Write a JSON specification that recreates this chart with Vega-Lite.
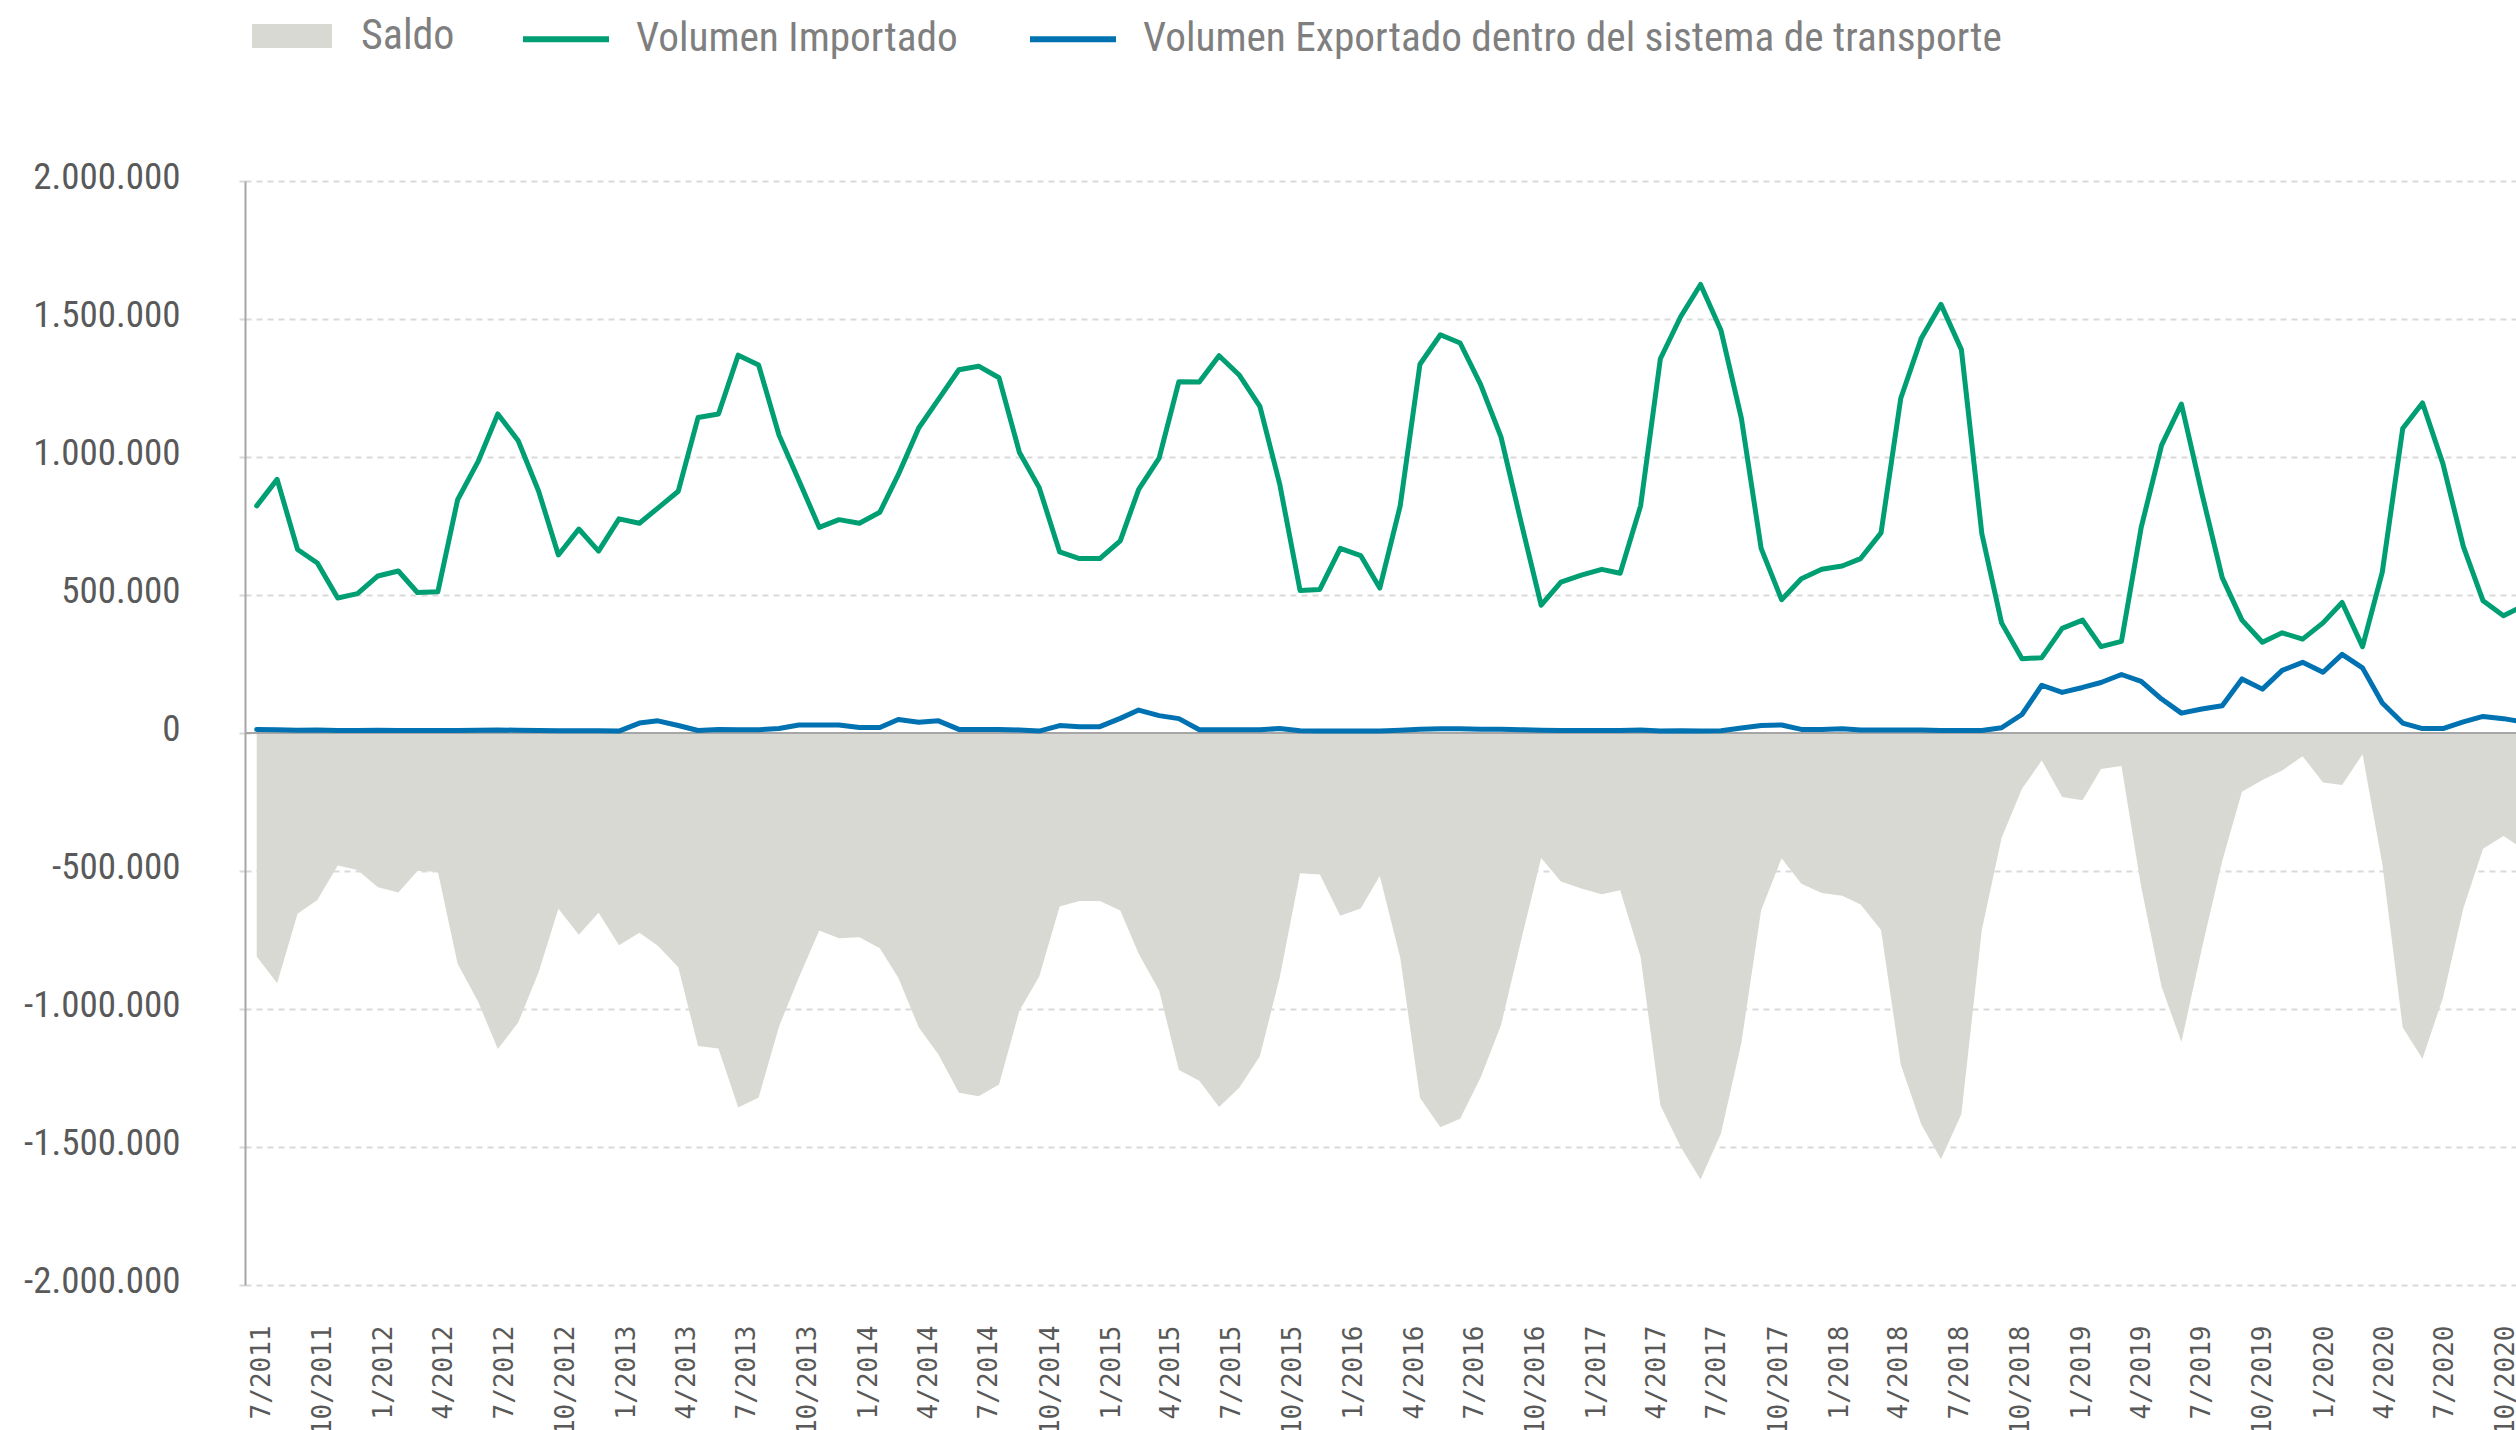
{
  "$schema": "https://vega.github.io/schema/vega-lite/v6.json",
  "width": 2271,
  "height": 1104,
  "autosize": {"type": "none"},
  "padding": {"left": 245, "top": 181, "right": 0, "bottom": 145},
  "background": "white",
  "config": {
    "view": {"stroke": null},
    "locale": {"number": {"decimal": ",", "thousands": ".", "grouping": [3], "currency": ["$", ""], "minus": "-"}},
    "axisY": {
      "domainColor": "#a6a6a6", "domainWidth": 2,
      "gridColor": "#d9d9d9", "gridDash": [6, 5], "gridWidth": 2,
      "tickColor": "#d9d9d9", "tickSize": 6, "tickWidth": 2,
      "labelFont": "Roboto Condensed, Roboto, sans-serif", "labelFontSize": 37, "labelColor": "#595959",
      "labelPadding": 59, "labelOffset": -4, "title": null
    }
  },
  "data": {"values": [
    {"fecha": "2011-07-01", "imp": 823000, "exp": 13000, "saldo": -810000},
    {"fecha": "2011-08-01", "imp": 919000, "exp": 12000, "saldo": -907000},
    {"fecha": "2011-09-01", "imp": 665000, "exp": 10000, "saldo": -655000},
    {"fecha": "2011-10-01", "imp": 616000, "exp": 11000, "saldo": -605000},
    {"fecha": "2011-11-01", "imp": 489000, "exp": 9000, "saldo": -480000},
    {"fecha": "2011-12-01", "imp": 505000, "exp": 9000, "saldo": -496000},
    {"fecha": "2012-01-01", "imp": 569000, "exp": 10000, "saldo": -559000},
    {"fecha": "2012-02-01", "imp": 587000, "exp": 9000, "saldo": -578000},
    {"fecha": "2012-03-01", "imp": 509000, "exp": 9000, "saldo": -500000},
    {"fecha": "2012-04-01", "imp": 512000, "exp": 9000, "saldo": -503000},
    {"fecha": "2012-05-01", "imp": 845000, "exp": 9000, "saldo": -836000},
    {"fecha": "2012-06-01", "imp": 983000, "exp": 10000, "saldo": -973000},
    {"fecha": "2012-07-01", "imp": 1156000, "exp": 11000, "saldo": -1145000},
    {"fecha": "2012-08-01", "imp": 1059000, "exp": 10000, "saldo": -1049000},
    {"fecha": "2012-09-01", "imp": 876000, "exp": 9000, "saldo": -867000},
    {"fecha": "2012-10-01", "imp": 645000, "exp": 8000, "saldo": -637000},
    {"fecha": "2012-11-01", "imp": 739000, "exp": 8000, "saldo": -731000},
    {"fecha": "2012-12-01", "imp": 659000, "exp": 8000, "saldo": -651000},
    {"fecha": "2013-01-01", "imp": 776000, "exp": 7000, "saldo": -769000},
    {"fecha": "2013-02-01", "imp": 760000, "exp": 36000, "saldo": -724000},
    {"fecha": "2013-03-01", "imp": 815000, "exp": 44000, "saldo": -771000},
    {"fecha": "2013-04-01", "imp": 876000, "exp": 27000, "saldo": -849000},
    {"fecha": "2013-05-01", "imp": 1143000, "exp": 9000, "saldo": -1134000},
    {"fecha": "2013-06-01", "imp": 1156000, "exp": 13000, "saldo": -1143000},
    {"fecha": "2013-07-01", "imp": 1369000, "exp": 12000, "saldo": -1357000},
    {"fecha": "2013-08-01", "imp": 1333000, "exp": 12000, "saldo": -1321000},
    {"fecha": "2013-09-01", "imp": 1079000, "exp": 16000, "saldo": -1063000},
    {"fecha": "2013-10-01", "imp": 916000, "exp": 29000, "saldo": -887000},
    {"fecha": "2013-11-01", "imp": 745000, "exp": 29000, "saldo": -716000},
    {"fecha": "2013-12-01", "imp": 773000, "exp": 29000, "saldo": -744000},
    {"fecha": "2014-01-01", "imp": 760000, "exp": 20000, "saldo": -740000},
    {"fecha": "2014-02-01", "imp": 800000, "exp": 20000, "saldo": -780000},
    {"fecha": "2014-03-01", "imp": 936000, "exp": 49000, "saldo": -887000},
    {"fecha": "2014-04-01", "imp": 1105000, "exp": 39000, "saldo": -1066000},
    {"fecha": "2014-05-01", "imp": 1209000, "exp": 44000, "saldo": -1165000},
    {"fecha": "2014-06-01", "imp": 1316000, "exp": 13000, "saldo": -1303000},
    {"fecha": "2014-07-01", "imp": 1329000, "exp": 13000, "saldo": -1316000},
    {"fecha": "2014-08-01", "imp": 1287000, "exp": 13000, "saldo": -1274000},
    {"fecha": "2014-09-01", "imp": 1016000, "exp": 11000, "saldo": -1005000},
    {"fecha": "2014-10-01", "imp": 889000, "exp": 7000, "saldo": -882000},
    {"fecha": "2014-11-01", "imp": 656000, "exp": 27000, "saldo": -629000},
    {"fecha": "2014-12-01", "imp": 632000, "exp": 23000, "saldo": -609000},
    {"fecha": "2015-01-01", "imp": 632000, "exp": 23000, "saldo": -609000},
    {"fecha": "2015-02-01", "imp": 696000, "exp": 53000, "saldo": -643000},
    {"fecha": "2015-03-01", "imp": 883000, "exp": 83000, "saldo": -800000},
    {"fecha": "2015-04-01", "imp": 996000, "exp": 63000, "saldo": -933000},
    {"fecha": "2015-05-01", "imp": 1273000, "exp": 52000, "saldo": -1221000},
    {"fecha": "2015-06-01", "imp": 1272000, "exp": 12000, "saldo": -1260000},
    {"fecha": "2015-07-01", "imp": 1367000, "exp": 12000, "saldo": -1355000},
    {"fecha": "2015-08-01", "imp": 1296000, "exp": 12000, "saldo": -1284000},
    {"fecha": "2015-09-01", "imp": 1183000, "exp": 12000, "saldo": -1171000},
    {"fecha": "2015-10-01", "imp": 903000, "exp": 16000, "saldo": -887000},
    {"fecha": "2015-11-01", "imp": 516000, "exp": 8000, "saldo": -508000},
    {"fecha": "2015-12-01", "imp": 520000, "exp": 7000, "saldo": -513000},
    {"fecha": "2016-01-01", "imp": 669000, "exp": 7000, "saldo": -662000},
    {"fecha": "2016-02-01", "imp": 643000, "exp": 7000, "saldo": -636000},
    {"fecha": "2016-03-01", "imp": 525000, "exp": 7000, "saldo": -518000},
    {"fecha": "2016-04-01", "imp": 823000, "exp": 10000, "saldo": -813000},
    {"fecha": "2016-05-01", "imp": 1336000, "exp": 14000, "saldo": -1322000},
    {"fecha": "2016-06-01", "imp": 1443000, "exp": 15000, "saldo": -1428000},
    {"fecha": "2016-07-01", "imp": 1413000, "exp": 15000, "saldo": -1398000},
    {"fecha": "2016-08-01", "imp": 1263000, "exp": 14000, "saldo": -1249000},
    {"fecha": "2016-09-01", "imp": 1073000, "exp": 14000, "saldo": -1059000},
    {"fecha": "2016-10-01", "imp": 769000, "exp": 12000, "saldo": -757000},
    {"fecha": "2016-11-01", "imp": 463000, "exp": 10000, "saldo": -453000},
    {"fecha": "2016-12-01", "imp": 547000, "exp": 9000, "saldo": -538000},
    {"fecha": "2017-01-01", "imp": 572000, "exp": 9000, "saldo": -563000},
    {"fecha": "2017-02-01", "imp": 593000, "exp": 9000, "saldo": -584000},
    {"fecha": "2017-03-01", "imp": 579000, "exp": 9000, "saldo": -570000},
    {"fecha": "2017-04-01", "imp": 823000, "exp": 11000, "saldo": -812000},
    {"fecha": "2017-05-01", "imp": 1356000, "exp": 7000, "saldo": -1349000},
    {"fecha": "2017-06-01", "imp": 1509000, "exp": 8000, "saldo": -1501000},
    {"fecha": "2017-07-01", "imp": 1625000, "exp": 7000, "saldo": -1618000},
    {"fecha": "2017-08-01", "imp": 1459000, "exp": 8000, "saldo": -1451000},
    {"fecha": "2017-09-01", "imp": 1140000, "exp": 18000, "saldo": -1122000},
    {"fecha": "2017-10-01", "imp": 669000, "exp": 27000, "saldo": -642000},
    {"fecha": "2017-11-01", "imp": 483000, "exp": 29000, "saldo": -454000},
    {"fecha": "2017-12-01", "imp": 559000, "exp": 13000, "saldo": -546000},
    {"fecha": "2018-01-01", "imp": 593000, "exp": 13000, "saldo": -580000},
    {"fecha": "2018-02-01", "imp": 605000, "exp": 15000, "saldo": -590000},
    {"fecha": "2018-03-01", "imp": 632000, "exp": 11000, "saldo": -621000},
    {"fecha": "2018-04-01", "imp": 725000, "exp": 11000, "saldo": -714000},
    {"fecha": "2018-05-01", "imp": 1213000, "exp": 11000, "saldo": -1202000},
    {"fecha": "2018-06-01", "imp": 1429000, "exp": 11000, "saldo": -1418000},
    {"fecha": "2018-07-01", "imp": 1553000, "exp": 9000, "saldo": -1544000},
    {"fecha": "2018-08-01", "imp": 1389000, "exp": 9000, "saldo": -1380000},
    {"fecha": "2018-09-01", "imp": 723000, "exp": 9000, "saldo": -714000},
    {"fecha": "2018-10-01", "imp": 399000, "exp": 19000, "saldo": -380000},
    {"fecha": "2018-11-01", "imp": 269000, "exp": 67000, "saldo": -202000},
    {"fecha": "2018-12-01", "imp": 273000, "exp": 173000, "saldo": -100000},
    {"fecha": "2019-01-01", "imp": 379000, "exp": 147000, "saldo": -232000},
    {"fecha": "2019-02-01", "imp": 409000, "exp": 165000, "saldo": -244000},
    {"fecha": "2019-03-01", "imp": 313000, "exp": 183000, "saldo": -130000},
    {"fecha": "2019-04-01", "imp": 332000, "exp": 212000, "saldo": -120000},
    {"fecha": "2019-05-01", "imp": 745000, "exp": 187000, "saldo": -558000},
    {"fecha": "2019-06-01", "imp": 1043000, "exp": 123000, "saldo": -920000},
    {"fecha": "2019-07-01", "imp": 1192000, "exp": 72000, "saldo": -1120000},
    {"fecha": "2019-08-01", "imp": 869000, "exp": 87000, "saldo": -782000},
    {"fecha": "2019-09-01", "imp": 563000, "exp": 99000, "saldo": -464000},
    {"fecha": "2019-10-01", "imp": 409000, "exp": 196000, "saldo": -213000},
    {"fecha": "2019-11-01", "imp": 329000, "exp": 159000, "saldo": -170000},
    {"fecha": "2019-12-01", "imp": 363000, "exp": 227000, "saldo": -136000},
    {"fecha": "2020-01-01", "imp": 340000, "exp": 256000, "saldo": -84000},
    {"fecha": "2020-02-01", "imp": 399000, "exp": 220000, "saldo": -179000},
    {"fecha": "2020-03-01", "imp": 473000, "exp": 285000, "saldo": -188000},
    {"fecha": "2020-04-01", "imp": 313000, "exp": 236000, "saldo": -77000},
    {"fecha": "2020-05-01", "imp": 583000, "exp": 109000, "saldo": -474000},
    {"fecha": "2020-06-01", "imp": 1103000, "exp": 36000, "saldo": -1067000},
    {"fecha": "2020-07-01", "imp": 1196000, "exp": 16000, "saldo": -1180000},
    {"fecha": "2020-08-01", "imp": 976000, "exp": 16000, "saldo": -960000},
    {"fecha": "2020-09-01", "imp": 676000, "exp": 40000, "saldo": -636000},
    {"fecha": "2020-10-01", "imp": 479000, "exp": 60000, "saldo": -419000},
    {"fecha": "2020-11-01", "imp": 425000, "exp": 52000, "saldo": -373000},
    {"fecha": "2020-12-01", "imp": 460000, "exp": 40000, "saldo": -420000}
  ]},
  "resolve": {"scale": {"x": "independent"}, "axis": {"x": "independent"}},
  "layer": [
    {
      "layer": [
        {
          "mark": {"type": "area", "clip": true, "opacity": 1},
          "encoding": {
            "x": {"field": "fecha", "type": "temporal", "scale": {"type": "utc", "domain": [1307941200000, 1605830400000]}, "axis": null},
            "y": {"field": "saldo", "type": "quantitative",
                  "scale": {"domain": [-2000000, 2000000], "nice": false, "zero": true},
                  "axis": {"values": [-2000000, -1500000, -1000000, -500000, 0, 500000, 1000000, 1500000, 2000000], "format": ",.0f", "title": null}},
            "fill": {
              "datum": "Saldo", "type": "nominal",
              "scale": {"domain": ["Saldo"], "range": ["#d9d9d4"]},
              "legend": {
                "title": null, "orient": "none", "legendX": 7, "legendY": -185,
                "symbolType": "M-1,-0.3H1V0.3H-1Z", "symbolSize": 6400, "symbolStrokeWidth": 0, "symbolOpacity": 1,
                "labelOffset": 29, "padding": 0,
                "labelFont": "Roboto Condensed, Roboto, sans-serif", "labelFontSize": 42, "labelColor": "#7f7f7f", "labelLimit": 3000
              }
            }
          }
        },
        {
          "data": {"values": [{}]},
          "mark": {"type": "rule", "color": "#a6a6a6", "strokeWidth": 2},
          "encoding": {"y": {"datum": 0, "type": "quantitative"}}
        },
        {
          "mark": {"type": "line", "clip": true, "strokeWidth": 5, "strokeJoin": "round", "strokeCap": "round"},
          "encoding": {
            "x": {"field": "fecha", "type": "temporal", "scale": {"type": "utc", "domain": [1307941200000, 1605830400000]}, "axis": null},
            "y": {"field": "imp", "type": "quantitative"},
            "stroke": {
              "datum": "Volumen Importado", "type": "nominal",
              "scale": {"domain": ["Volumen Importado", "Volumen Exportado dentro del sistema de transporte"], "range": ["#009E73", "#0072B2"]},
              "legend": {
                "title": null, "orient": "none", "legendX": 275, "legendY": -188, "direction": "horizontal",
                "symbolType": "stroke", "symbolSize": 7396, "symbolStrokeWidth": 6, "symbolOpacity": 1,
                "labelOffset": 24, "columnPadding": 60, "padding": 0,
                "labelFont": "Roboto Condensed, Roboto, sans-serif", "labelFontSize": 41.3, "labelColor": "#7f7f7f", "labelLimit": 3000
              }
            }
          }
        },
        {
          "mark": {"type": "line", "clip": true, "strokeWidth": 5, "strokeJoin": "round", "strokeCap": "round"},
          "encoding": {
            "x": {"field": "fecha", "type": "temporal", "scale": {"type": "utc", "domain": [1307941200000, 1605830400000]}, "axis": null},
            "y": {"field": "exp", "type": "quantitative"},
            "stroke": {"datum": "Volumen Exportado dentro del sistema de transporte", "type": "nominal"}
          }
        }
      ]
    },
    {
      "mark": {"type": "point", "opacity": 0},
      "encoding": {
        "x": {"field": "fecha", "type": "temporal",
              "scale": {"type": "utc", "domain": [1307397000000, 1602811600000]},
              "axis": {"orient": "bottom", "format": "%-m/%Y", "tickCount": {"interval": "month", "step": 3},
                       "labelAngle": -90, "labelAlign": "right", "labelBaseline": "middle",
                       "labelFont": "DejaVu Sans Mono", "labelFontSize": 26, "labelColor": "#595959",
                       "labelPadding": 40, "ticks": false, "tickSize": 0, "domain": false, "grid": false, "title": null,
                       "labelOverlap": false, "labelBound": false, "labelFlush": false}}
      }
    }
  ]
}
